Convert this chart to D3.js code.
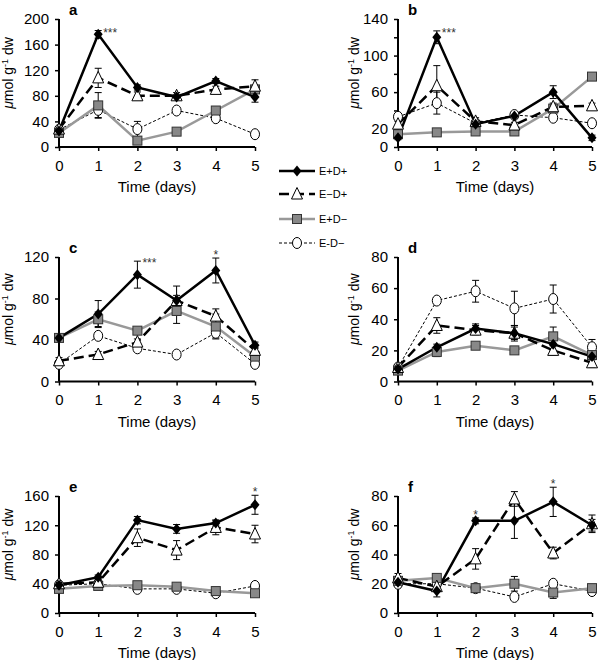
<!DOCTYPE html>
<html><head><meta charset="utf-8">
<script src="https://cdn.jsdelivr.net/npm/d3@7"></script>
<style>body{margin:0;background:#fff}svg{display:block}</style>
</head><body>
<script>
// ---- data ----
const days = [0, 1, 2, 3, 4, 5];
const seriesNames = ["E+D+", "E\u2212D+", "E+D\u2212", "E-D\u2212"];

const a_EpDp = [25, 176, 93, 78, 103, 78];
const a_EmDp = [28, 108, 80, 80, 90, 95];
const a_EpDm = [22, 65, 10, 24, 57, 90];
const a_EmDm = [27, 58, 28, 57, 45, 20];
const a_err_EpDp = [3, 6, 4, 3, 4, 8];
const a_err_EmDp = [3, 15, 6, 5, 5, 10];
const a_err_EpDm = [3, 20, 3, 3, 4, 5];
const a_err_EmDm = [3, 12, 12, 4, 4, 3];

const b_EpDp = [10, 120, 25, 34, 60, 10];
const b_EmDp = [25, 67, 28, 24, 44, 45];
const b_EpDm = [14, 16, 17, 17, 42, 77];
const b_EmDm = [33, 48, 26, 35, 32, 26];
const b_err_EpDp = [2, 7, 3, 3, 7, 3];
const b_err_EmDp = [3, 22, 4, 3, 4, 3];
const b_err_EpDm = [2, 2, 2, 2, 4, 3];
const b_err_EmDm = [3, 12, 3, 3, 3, 3];

const c_EpDp = [42, 65, 103, 78, 107, 35];
const c_EmDp = [20, 26, 38, 78, 63, 30];
const c_EpDm = [42, 60, 49, 68, 53, 24];
const c_EmDm = [17, 44, 32, 26, 47, 17];
const c_err_EpDp = [3, 13, 13, 14, 12, 3];
const c_err_EmDp = [3, 3, 3, 5, 7, 3];
const c_err_EpDm = [3, 7, 3, 12, 12, 3];
const c_err_EmDm = [2, 3, 3, 2, 5, 3];

const d_EpDp = [8, 22, 34, 31, 24, 16];
const d_EmDp = [9, 36, 33, 31, 20, 12];
const d_EpDm = [7, 19, 23, 20, 29, 17];
const d_EmDm = [9, 52, 58, 47, 53, 22];
const d_err_EpDp = [2, 2, 3, 4, 4, 2];
const d_err_EmDp = [2, 5, 3, 5, 3, 3];
const d_err_EpDm = [1, 3, 2, 2, 6, 2];
const d_err_EmDm = [2, 2, 7, 11, 9, 5];

const e_EpDp = [38, 49, 127, 115, 123, 148];
const e_EmDp = [40, 42, 103, 86, 117, 108];
const e_EpDm = [33, 37, 38, 36, 30, 27];
const e_EmDm = [38, 40, 33, 33, 27, 37];
const e_err_EpDp = [3, 3, 5, 6, 4, 13];
const e_err_EmDp = [3, 3, 12, 13, 10, 12];
const e_err_EpDm = [3, 3, 3, 3, 3, 3];
const e_err_EmDm = [3, 3, 3, 3, 3, 3];

const f_EpDp = [21, 15, 63, 63, 76, 60];
const f_EmDp = [24, 18, 37, 78, 41, 61];
const f_EpDm = [22, 24, 17, 20, 14, 17];
const f_EmDm = [20, 20, 17, 11, 20, 15];
const f_err_EpDp = [3, 4, 2, 12, 10, 4];
const f_err_EmDp = [3, 3, 7, 5, 4, 6];
const f_err_EpDm = [2, 2, 2, 5, 4, 2];
const f_err_EmDm = [2, 2, 2, 2, 2, 2];

const yMaxes = [200, 140, 120, 80, 160, 80];
const yTickLabels = [[0,40,80,120,160,200],[0,20,60,100,140],[0,40,80,120],[0,20,40,60,80],[0,40,80,120,160],[0,20,40,60,80]];
const yTickSteps = [40, 20, 40, 20, 40, 20];
const panelLetters = ["a","b","c","d","e","f"];
// significance: [series index, day, text, placement]
const sigA = [[0, 1, "***", "right"]];
const sigB = [[0, 1, "***", "right"]];
const sigC = [[0, 2, "***", "right"], [0, 4, "*", "top"]];
const sigD = [];
const sigE = [[0, 5, "*", "top"]];
const sigF = [[0, 2, "*", "top"], [0, 4, "*", "top"]];

const panels = [
  {vals:[a_EpDp,a_EmDp,a_EpDm,a_EmDm], errs:[a_err_EpDp,a_err_EmDp,a_err_EpDm,a_err_EmDm], sig:sigA},
  {vals:[b_EpDp,b_EmDp,b_EpDm,b_EmDm], errs:[b_err_EpDp,b_err_EmDp,b_err_EpDm,b_err_EmDm], sig:sigB},
  {vals:[c_EpDp,c_EmDp,c_EpDm,c_EmDm], errs:[c_err_EpDp,c_err_EmDp,c_err_EpDm,c_err_EmDm], sig:sigC},
  {vals:[d_EpDp,d_EmDp,d_EpDm,d_EmDm], errs:[d_err_EpDp,d_err_EmDp,d_err_EpDm,d_err_EmDm], sig:sigD},
  {vals:[e_EpDp,e_EmDp,e_EpDm,e_EmDm], errs:[e_err_EpDp,e_err_EmDp,e_err_EpDm,e_err_EmDm], sig:sigE},
  {vals:[f_EpDp,f_EmDp,f_EpDm,f_EmDm], errs:[f_err_EpDp,f_err_EmDp,f_err_EpDm,f_err_EmDm], sig:sigF},
];

// ---- layout/style ----
const FONT = "'Liberation Sans', Arial, sans-serif";
const colX = [[59, 255], [398, 592]];
const rowY = [[147, 19], [381.5, 257], [613, 496]];
const styles = [
  {stroke:"#000", width:2.5, dash:null},
  {stroke:"#000", width:2.5, dash:"10,5"},
  {stroke:"#999", width:2.5, dash:null},
  {stroke:"#000", width:1, dash:"3,2"},
];
const drawOrder = [3, 2, 1, 0];

const svg = d3.select("body").append("svg").attr("width", 600).attr("height", 660)
  .style("font-family", FONT);

function marker(g, si, x, y) {
  if (si === 0) {
    g.append("path").attr("d", `M${x},${y-5.5}L${x+4.5},${y}L${x},${y+5.5}L${x-4.5},${y}Z`).attr("fill", "#000");
  } else if (si === 1) {
    g.append("path").attr("d", `M${x},${y-6.5}L${x+5.5},${y+5}L${x-5.5},${y+5}Z`)
      .attr("fill", "#fff").attr("stroke", "#000").attr("stroke-width", 1);
  } else if (si === 2) {
    g.append("rect").attr("x", x-4.5).attr("y", y-4.5).attr("width", 9).attr("height", 9)
      .attr("fill", "#888").attr("stroke", "#333").attr("stroke-width", 1);
  } else {
    g.append("ellipse").attr("cx", x).attr("cy", y).attr("rx", 4.5).attr("ry", 5.5)
      .attr("fill", "#fff").attr("stroke", "#000").attr("stroke-width", 1);
  }
}

panels.forEach((p, pi) => {
  const col = pi % 2, row = Math.floor(pi / 2);
  const x = d3.scaleLinear().domain([0, 5]).range(colX[col]);
  const y = d3.scaleLinear().domain([0, yMaxes[pi]]).range(rowY[row]);
  const g = svg.append("g");

  // axes
  const yTicks = d3.range(0, yMaxes[pi] + 0.001, yTickSteps[pi]);
  const yAxis = d3.axisLeft(y).tickValues(yTicks).tickSize(4).tickPadding(6)
    .tickFormat(v => yTickLabels[pi].includes(v) ? v : "");
  const ya = g.append("g").attr("transform", `translate(${colX[col][0]},0)`).call(yAxis);
  const xAxis = d3.axisBottom(x).tickValues(days).tickSize(4).tickPadding(9).tickFormat(d3.format("d"));
  const xa = g.append("g").attr("transform", `translate(0,${rowY[row][0]})`).call(xAxis);
  [ya, xa].forEach(a => {
    a.select(".domain").attr("stroke-width", 2);
    a.selectAll(".tick line").attr("stroke-width", 1.5);
    a.selectAll("text").attr("font-size", 15).attr("font-family", FONT).attr("fill", "#000");
  });
  ya.select(".domain").attr("d", `M0,${rowY[row][0]}V${rowY[row][1]}`);
  xa.select(".domain").attr("d", `M${colX[col][0]},0H${colX[col][1]}`);

  // titles
  g.append("text").attr("x", (colX[col][0] + colX[col][1]) / 2).attr("y", rowY[row][0] + 45)
    .attr("text-anchor", "middle").attr("font-size", 15).text("Time (days)");
  const yl = g.append("text").attr("transform", `translate(${col ? 359 : 13},${(rowY[row][0]+rowY[row][1])/2 - 10}) rotate(-90)`)
    .attr("text-anchor", "middle").attr("font-size", 14);
  yl.append("tspan").attr("font-style", "italic").text("\u03bc");
  yl.append("tspan").text("mol g");
  yl.append("tspan").attr("font-size", 9).attr("dy", -5).text("-1");
  yl.append("tspan").attr("dy", 5).text(" dw");
  g.append("text").attr("x", colX[col][0] + 10).attr("y", rowY[row][1] - 4)
    .attr("font-size", 15).attr("font-weight", "bold").text(panelLetters[pi]);

  // lines
  drawOrder.forEach(si => {
    const st = styles[si];
    const line = d3.line().x((d, i) => x(days[i])).y(d => y(d));
    g.append("path").attr("d", line(p.vals[si])).attr("fill", "none")
      .attr("stroke", st.stroke).attr("stroke-width", st.width)
      .attr("stroke-dasharray", st.dash);
  });
  // error bars
  drawOrder.forEach(si => {
    p.vals[si].forEach((v, i) => {
      const e = p.errs[si][i];
      const cx = x(days[i]);
      const y1 = y(v + e), y2 = y(v - e);
      g.append("path").attr("d", `M${cx},${y1}V${y2}M${cx-3.5},${y1}H${cx+3.5}M${cx-3.5},${y2}H${cx+3.5}`)
        .attr("stroke", "#000").attr("stroke-width", 1).attr("fill", "none");
    });
  });
  // markers
  drawOrder.forEach(si => {
    p.vals[si].forEach((v, i) => marker(g, si, x(days[i]), y(v)));
  });
  // significance
  p.sig.forEach(([si, day, txt, pos]) => {
    const v = p.vals[si][day], e = p.errs[si][day];
    const t = g.append("text").attr("font-size", 12).attr("fill", "#333").text(txt);
    if (pos === "right") t.attr("x", x(day) + 5).attr("y", y(v + e) + 6);
    else t.attr("x", x(day)).attr("y", y(v + e) + 1).attr("text-anchor", "middle");
  });
});

// legend
const legY = [171, 194, 219, 243];
const lg = svg.append("g");
[0, 1, 2, 3].forEach(si => {
  const st = styles[si];
  lg.append("line").attr("x1", 279).attr("x2", 315).attr("y1", legY[si]).attr("y2", legY[si])
    .attr("stroke", st.stroke).attr("stroke-width", st.width).attr("stroke-dasharray", st.dash);
  marker(lg, si, 297, legY[si]);
  lg.append("text").attr("x", 319).attr("y", legY[si] + 4).attr("font-size", 11)
    .attr("font-family", "'Liberation Sans Narrow', 'Liberation Sans', Arial, sans-serif")
    .text(seriesNames[si]);
});
</script>
</body></html>
